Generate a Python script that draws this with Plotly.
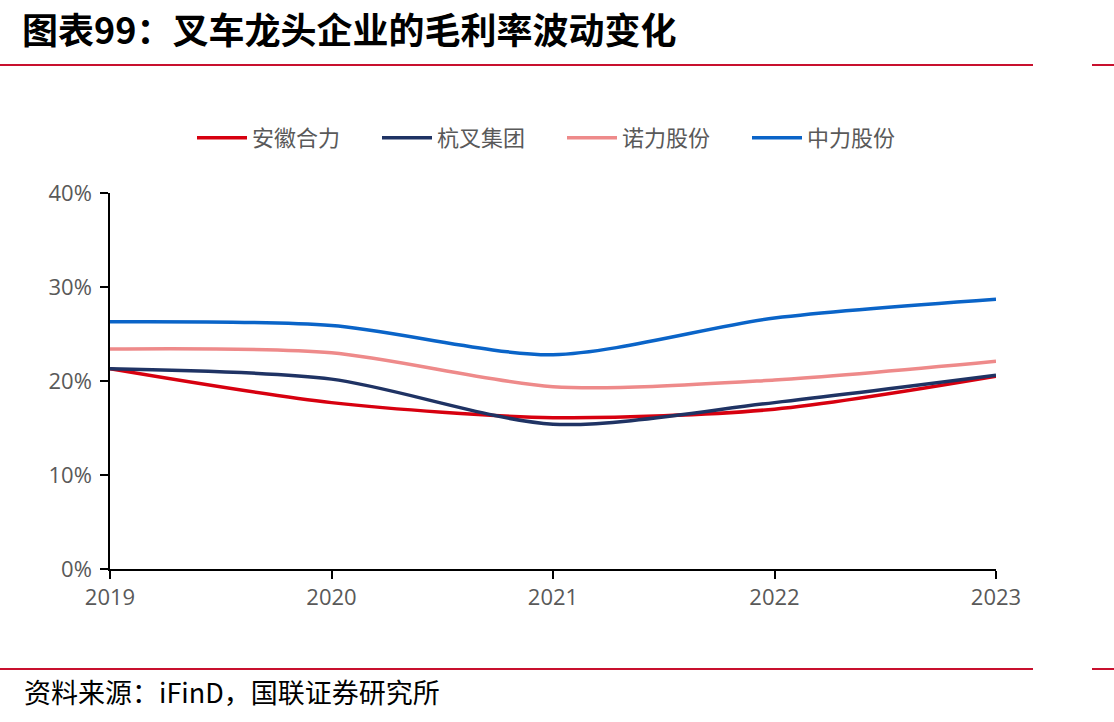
import plotly.graph_objects as go

years = [2019, 2020, 2021, 2022, 2023]
heli = [21.3, 17.7, 16.1, 17.0, 20.5]       # 安徽合力
hangcha = [21.3, 20.2, 15.4, 17.7, 20.6]    # 杭叉集团
noli = [23.4, 23.0, 19.4, 20.1, 22.1]       # 诺力股份
zhongli = [26.3, 25.9, 22.8, 26.7, 28.7]    # 中力股份
series_names = ["安徽合力", "杭叉集团", "诺力股份", "中力股份"]
series_values = [heli, hangcha, noli, zhongli]
colors = ["#D7000F", "#1F3364", "#EE8A8A", "#0A64C8"]
y_ticks = [0, 10, 20, 30, 40]
y_tick_labels = ["0%", "10%", "20%", "30%", "40%"]

fig = go.Figure()
for name, vals, c in zip(series_names, series_values, colors):
    fig.add_trace(go.Scatter(
        x=years, y=vals, name=name, mode="lines",
        line=dict(color=c, width=3.5, shape="spline", smoothing=0.8),
    ))

W, H = 1114, 722
L, R, T, B = 110, 996, 193, 569
pw, ph = R - L, B - T

def px(x):
    return (x - L) / pw

def py(y):
    return (B - y) / ph

red = "#C8102E"
shapes = []
for yy in (65, 669):
    shapes.append(dict(type="line", xref="paper", yref="paper",
                       x0=px(0), x1=px(1033), y0=py(yy), y1=py(yy),
                       line=dict(color=red, width=2)))
    shapes.append(dict(type="line", xref="paper", yref="paper",
                       x0=px(1092), x1=px(1114), y0=py(yy), y1=py(yy),
                       line=dict(color=red, width=2)))

annotations = [
    dict(text="<b>图表99：叉车龙头企业的毛利率波动变化</b>", xref="paper", yref="paper",
         x=px(20), y=py(28), xanchor="left", yanchor="middle", showarrow=False,
         font=dict(family="Noto Sans CJK SC", size=36, color="#000000")),
    dict(text="资料来源：iFinD，国联证券研究所", xref="paper", yref="paper",
         x=px(22), y=py(691), xanchor="left", yanchor="middle", showarrow=False,
         font=dict(family="Noto Sans CJK SC", size=27, color="#000000")),
]

fig.update_layout(
    width=W, height=H,
    margin=dict(l=L, r=W - R, t=T, b=H - B),
    paper_bgcolor="white", plot_bgcolor="white",
    showlegend=True,
    legend=dict(orientation="h", x=px(562), xanchor="center", y=py(138), yanchor="middle",
                font=dict(family="Noto Sans CJK SC", size=22, color="#595959"),
                entrywidth=120, itemwidth=50, tracegroupgap=0),
    xaxis=dict(range=[2019, 2023], tickvals=years, ticktext=[str(y) for y in years],
               showgrid=False, zeroline=False, showline=True, linecolor="#000000", linewidth=1.5,
               ticks="outside", ticklen=8, tickcolor="#000000", tickwidth=1.5,
               tickfont=dict(family="Open Sans", size=22, color="#595959")),
    yaxis=dict(range=[0, 40], tickvals=y_ticks, ticktext=y_tick_labels,
               showgrid=False, zeroline=False, showline=True, linecolor="#000000", linewidth=1.5,
               ticks="outside", ticklen=8, tickcolor="#000000", tickwidth=1.5,
               ticklabelstandoff=4,
               tickfont=dict(family="Open Sans", size=22, color="#595959")),
    shapes=shapes, annotations=annotations,
)

fig.write_html("out.html")
